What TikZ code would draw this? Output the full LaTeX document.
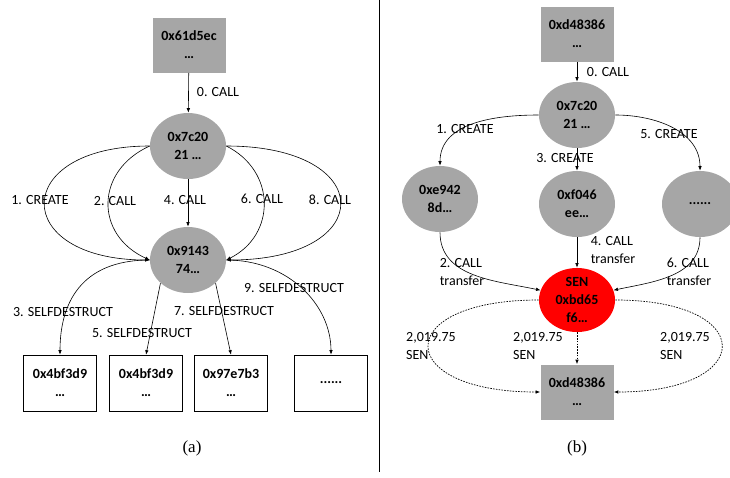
\documentclass[tikz,border=0pt]{standalone}
\usepackage{fontspec}
\setmainfont{Carlito}
\newfontfamily\capfont{Liberation Serif}
\usetikzlibrary{shapes.geometric, arrows.meta}
\definecolor{nodegray}{HTML}{A6A6A6}

\begin{document}
\begin{tikzpicture}[x=1pt, y=-1pt, line width=0.6pt,
    >={Latex[length=4.5pt, width=3.5pt]},
    lbl/.style={font=\fontsize{14}{18}\selectfont, inner sep=0pt, align=left},
    addr/.style={font=\fontsize{14}{18}\selectfont\bfseries, inner sep=0pt, align=center},
    graybox/.style={addr, rectangle, fill=nodegray, minimum width=73pt, minimum height=55pt},
    whitebox/.style={addr, rectangle, draw=black, fill=white, minimum width=73pt, minimum height=56pt},
    contract/.style={addr, ellipse, fill=nodegray, minimum width=76pt, minimum height=66pt},
    token/.style={contract, fill=red, minimum height=64pt},
    flow/.style={->, line width=0.7pt, dash pattern=on 1.6pt off 1.2pt},
    caption/.style={font=\capfont\fontsize{17}{20}\selectfont, inner sep=0pt}]
    \useasboundingbox (0, 0) rectangle (730, 477);

    % draw left call graph
    \node[graybox] (caller) at (189, 45) {0x61d5ec\\…};
    \node[contract] (proxy) at (188, 146) {0x7c20\\21 …};
    \node[contract] (attack) at (188, 260) {0x9143\\74…};
    \node[whitebox] (kill1) at (60, 383) {0x4bf3d9\\…};
    \node[whitebox] (kill2) at (146, 383) {0x4bf3d9\\…};
    \node[whitebox] (kill3) at (231, 383) {0x97e7b3\\…};
    \node[whitebox] (kill4) at (331, 383) {......};

    \draw[->] (caller) -- (proxy);
    \draw[->] (proxy.west) .. controls +(-140, 0) and +(-140, 0) .. (attack.west);
    \draw[->] (proxy.west) .. controls +(-55, 25) and +(-55, -25) .. (attack.west);
    \draw[->] (proxy) -- (attack);
    \draw[->] (proxy.east) .. controls +(50, 25) and +(50, -25) .. (attack.east);
    \draw[->] (proxy.east) .. controls +(152, 0) and +(152, 0) .. (attack.east);
    \draw[->] (attack.west) .. controls +(-70, 0) and +(0, -50) .. (kill1.north);
    \draw[->] (attack.220) -- (kill2.north);
    \draw[->] (attack.320) -- (kill3.north);
    \draw[->] (attack.east) .. controls +(62, 0) and +(0, -50) .. (kill4.north);

    \node[lbl] (la0) at (218, 92) {0. CALL};
    \node[lbl] (la1) at (40, 200) {1. CREATE};
    \node[lbl] (la2) at (115, 201) {2. CALL};
    \node[lbl] (la4) at (185, 200) {4. CALL};
    \node[lbl] (la6) at (262, 199) {6. CALL};
    \node[lbl] (la8) at (330, 200) {8. CALL};
    \node[lbl] (la3) at (63, 312) {3. SELFDESTRUCT};
    \node[lbl] (la5) at (142, 333) {5. SELFDESTRUCT};
    \node[lbl] (la7) at (224, 311) {7. SELFDESTRUCT};
    \node[lbl] (la9) at (294, 288) {9. SELFDESTRUCT};
    \node[caption] (capa) at (192, 448) {(a)};

    % draw divider
    \draw[line width=0.8pt] (379, 0) -- (379, 472);

    % draw right call graph
    \node[graybox] (sender) at (577, 34) {0xd48386\\…};
    \node[contract] (proxyb) at (577, 115) {0x7c20\\21 …};
    \node[contract] (childa) at (440, 199) {0xe942\\8d…};
    \node[contract] (childb) at (577, 204) {0xf046\\ee…};
    \node[contract] (childc) at (700, 204) {......};
    \node[token] (sen) at (577, 300) {SEN\\0xbd65\\f6…};
    \node[graybox] (receiver) at (577, 392) {0xd48386\\…};

    \draw[->] (sender) -- (proxyb);
    \draw[->] (proxyb.west) to[out=180, in=90] (childa.north);
    \draw[->] (proxyb) -- (childb);
    \draw[->] (proxyb.east) to[out=0, in=90] (childc.north);
    \draw[->] (childa.south) to[out=270, in=168] (sen.165);
    \draw[->] (childb) -- (sen);
    \draw[->] (childc.south) to[out=270, in=12] (sen.15);
    \draw[flow] (sen.west) .. controls +(-148, 0) and +(-148, 0) .. (receiver.west);
    \draw[flow] (sen) -- (receiver);
    \draw[flow] (sen.east) .. controls +(143, 0) and +(143, 0) .. (receiver.east);

    \node[lbl] (lb0) at (608, 72) {0. CALL};
    \node[lbl] (lb1) at (465, 129) {1. CREATE};
    \node[lbl] (lb3) at (565, 158) {3. CREATE};
    \node[lbl] (lb5) at (669, 134) {5. CREATE};
    \node[lbl] (lb2) at (462, 272) {2. CALL\\transfer};
    \node[lbl] (lb4) at (613, 250) {4. CALL\\transfer};
    \node[lbl] (lb6) at (689, 272) {6. CALL\\transfer};
    \node[lbl] (lbl) at (431, 346) {2,019.75\\SEN};
    \node[lbl] (lbm) at (538, 346) {2,019.75\\SEN};
    \node[lbl] (lbr) at (685, 346) {2,019.75\\SEN};
    \node[caption] (capb) at (577, 448) {(b)};
\end{tikzpicture}
\end{document}
